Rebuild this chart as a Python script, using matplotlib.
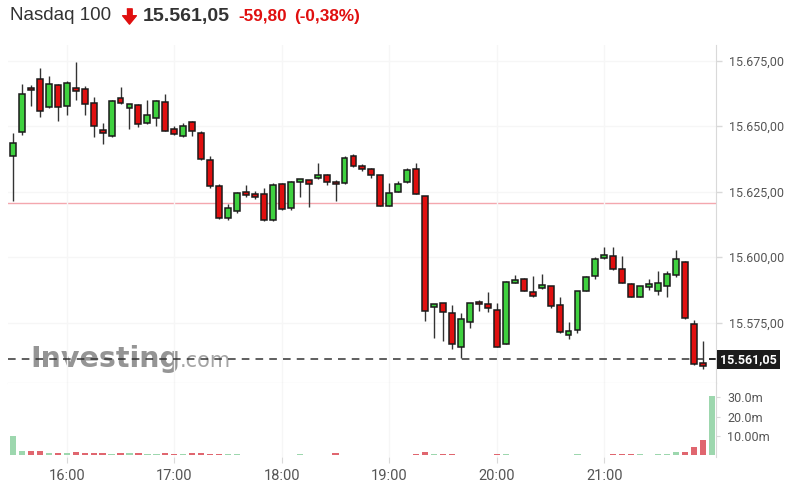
import numpy as np
import pandas as pd
import matplotlib
matplotlib.use("Agg")
import matplotlib.pyplot as plt

# Data (5 minute candles, 15:30 - 22:00)
START_TIME = "15:30"
opens = [15638.7, 15647.8, 15664.7, 15668.0, 15657.2, 15665.7, 15657.8, 15664.7, 15664.2, 15659.0,
         15648.5, 15646.4, 15660.8, 15657.0, 15658.1, 15651.3, 15653.1, 15659.4, 15648.9, 15646.4,
         15651.5, 15647.5, 15637.1, 15627.0, 15615.0, 15617.5, 15625.0, 15624.1, 15624.1, 15614.2,
         15627.9, 15618.8, 15628.8, 15629.5, 15630.2, 15631.2, 15628.9, 15628.3, 15638.5, 15635.0,
         15633.7, 15631.2, 15619.7, 15625.0, 15628.8, 15633.7, 15623.2, 15581.0, 15582.6, 15578.7,
         15565.6, 15575.3, 15583.1, 15582.1, 15579.7, 15566.9, 15590.2, 15591.8, 15586.6, 15588.1,
         15588.9, 15581.8, 15570.5, 15572.3, 15587.2, 15592.9, 15599.7, 15600.3, 15595.6, 15589.9,
         15584.9, 15588.6, 15587.2, 15589.1, 15593.3, 15598.3, 15574.5, 15559.7, 15561.05]
highs = [15647.3, 15666.1, 15665.7, 15672.2, 15669.3, 15666.0, 15667.1, 15674.6, 15665.5, 15661.0,
         15651.2, 15660.0, 15665.0, 15658.6, 15658.3, 15660.1, 15660.0, 15662.3, 15650.2, 15651.2,
         15652.1, 15648.3, 15638.7, 15627.9, 15620.3, 15625.0, 15627.7, 15625.4, 15626.6, 15628.2,
         15628.2, 15629.2, 15630.0, 15629.6, 15636.0, 15631.7, 15629.3, 15638.5, 15639.4, 15635.5,
         15634.0, 15631.5, 15628.3, 15629.2, 15634.0, 15635.8, 15623.3, 15582.2, 15582.7, 15581.9,
         15578.9, 15582.7, 15583.7, 15586.8, 15582.4, 15590.8, 15593.3, 15592.0, 15592.9, 15593.6,
         15589.0, 15584.9, 15575.1, 15587.2, 15592.9, 15600.2, 15604.0, 15604.0, 15600.6, 15590.0,
         15589.1, 15591.7, 15594.6, 15594.8, 15602.9, 15598.5, 15576.0, 15568.1, 15561.05]
lows = [15621.6, 15646.6, 15657.8, 15653.6, 15657.0, 15652.1, 15654.1, 15660.0, 15654.4, 15645.7,
        15643.2, 15646.0, 15658.5, 15648.9, 15649.8, 15651.0, 15649.9, 15648.0, 15646.6, 15646.0,
        15646.1, 15637.2, 15626.6, 15614.6, 15614.2, 15616.9, 15623.1, 15622.2, 15614.0, 15614.0,
        15618.2, 15618.0, 15622.8, 15619.3, 15630.0, 15627.7, 15621.3, 15628.0, 15634.5, 15633.0,
        15630.2, 15619.5, 15619.5, 15624.8, 15628.5, 15624.0, 15575.5, 15569.2, 15568.1, 15565.0,
        15561.5, 15573.0, 15579.3, 15579.2, 15565.7, 15566.8, 15590.0, 15587.0, 15585.0, 15588.0,
        15580.8, 15571.0, 15568.8, 15570.9, 15587.0, 15591.7, 15599.5, 15595.3, 15590.0, 15584.7,
        15584.7, 15587.5, 15585.7, 15585.0, 15592.6, 15576.5, 15559.0, 15557.2, 15561.05]
closes = [15643.7, 15662.3, 15663.7, 15655.9, 15666.1, 15657.3, 15666.6, 15663.5, 15658.5, 15650.2,
          15647.3, 15659.5, 15658.9, 15658.5, 15650.8, 15654.1, 15659.8, 15648.3, 15647.0, 15650.2,
          15648.0, 15637.5, 15627.3, 15615.0, 15618.9, 15624.5, 15623.9, 15622.8, 15614.2, 15627.7,
          15618.4, 15628.9, 15630.0, 15627.8, 15631.4, 15628.8, 15627.8, 15638.0, 15634.9, 15633.5,
          15631.2, 15619.7, 15624.5, 15627.9, 15633.3, 15624.1, 15579.6, 15582.1, 15579.1, 15566.9,
          15576.4, 15582.6, 15582.0, 15580.5, 15565.8, 15590.6, 15591.3, 15587.2, 15585.2, 15589.4,
          15581.5, 15571.3, 15571.7, 15587.0, 15592.3, 15599.5, 15600.8, 15595.5, 15590.2, 15584.9,
          15588.9, 15589.8, 15590.2, 15593.6, 15599.3, 15576.8, 15559.2, 15558.6, 15561.05]
# volume in millions
volumes = [10.1, 2.3, 2.3, 2.5, 1.5, 1.5, 1.4, 1.7, 1.2, 1.1,
           1.1, 1.0, 1.1, 1.1, 1.1, 1.0, 1.0, 1.2, 1.0, 1.0,
           1.1, 1.1, 1.0, 1.0, 0.9, 0.8, 0.4, 0.4, 0.3, 0.4,
           0.4, 0.5, 0.6, 0.3, 0.3, 0.3, 1.2, 0.3, 0.3, 0.4,
           0.3, 0.4, 0.4, 0.4, 0.4, 0.8, 1.8, 0.8, 1.0, 1.0,
           0.4, 0.3, 0.3, 0.3, 1.0, 1.0, 0.3, 0.4, 0.4, 0.3,
           0.3, 0.4, 0.3, 0.9, 0.4, 0.3, 0.3, 1.0, 0.7, 1.0,
           0.8, 0.3, 0.7, 0.8, 1.8, 1.8, 4.2, 8.0, 31.0]

PREV_CLOSE = 15620.85
LAST_PRICE = 15561.05
CHANGE = -59.80
CHANGE_PCT = -0.38
price_ticks = [15575, 15600, 15625, 15650, 15675]
vol_ticks = [10, 20, 30]
vol_tick_labels = ["10.00m", "20.0m", "30.0m"]

# Colors
GREEN = "#3fd13f"
RED = "#e00f0f"
VOL_GREEN = "#9dd7ae"
VOL_RED = "#e0666f"
GRID = "#f6f6f6"
AXIS = "#d9d9d9"
TEXT = "#555555"


def euro(v):
    # 15675 -> "15.675,00"
    s = f"{v:,.2f}"
    return s.replace(",", "X").replace(".", ",").replace("X", ".")


times = pd.date_range("2023-01-01 " + START_TIME, periods=len(closes), freq="5min")
x = np.arange(len(closes))
up = np.array(closes) >= np.array(opens)
hour_idx = [i for i, t in enumerate(times) if t.minute == 0 and i < len(closes) - 1]
hour_lbl = [times[i].strftime("%H:%M") for i in hour_idx]

fig = plt.figure(figsize=(7.85, 4.93), dpi=100)
ax = fig.add_axes([8 / 785, 110 / 493, 708 / 785, 338 / 493])
axv = fig.add_axes([8 / 785, 36 / 493, 708 / 785, 74 / 493], sharex=ax)

# Price panel
for i in range(len(closes)):
    ax.vlines(x[i], lows[i], highs[i], color="#333333", linewidth=1, zorder=3)
bottoms = np.minimum(opens, closes)
heights = np.abs(np.array(closes) - np.array(opens))
ax.bar(x, heights, bottom=bottoms, width=0.66,
       color=[GREEN if u else RED for u in up],
       edgecolor="#1a1a1a", linewidth=1.1, zorder=4)

ax.axhline(PREV_CLOSE, color="#f4a7ae", linewidth=1, zorder=1)
ax.axhline(LAST_PRICE, color="#333333", linewidth=1.1, linestyle=(0, (5, 4)), zorder=2)

ax.set_xlim(-0.56, 78.46)
ax.set_ylim(15552.0, 15681.0)
ax.yaxis.tick_right()
ax.set_yticks(price_ticks)
ax.set_yticklabels([euro(v) for v in price_ticks])
ax.tick_params(axis="y", length=4, width=1, color=AXIS, pad=5,
               labelsize=9, labelcolor=TEXT)
ax.tick_params(axis="x", bottom=False, labelbottom=False)
ax.set_xticks(hour_idx)
ax.grid(True, color=GRID, linewidth=1, zorder=0)
for side in ["top", "left"]:
    ax.spines[side].set_visible(False)
ax.spines["right"].set_color(AXIS)
ax.spines["bottom"].set_color("#cccccc")

# last price label
ax.text(1.006, LAST_PRICE, euro(LAST_PRICE), transform=ax.get_yaxis_transform(),
        ha="left", va="center", fontsize=9, color="white", fontweight="bold",
        fontfamily="Roboto", zorder=6,
        bbox=dict(boxstyle="square,pad=0.25", facecolor="#1c1c1c", edgecolor="none"))

# Watermark
ax.text(22 / 708, 0.047, "Investing", transform=ax.transAxes, fontsize=20.5,
        fontweight="bold", color="#8a8a8a", alpha=0.9, ha="left", va="baseline",
        fontfamily="DejaVu Sans", zorder=1)
ax.text(172 / 708, 0.047, ".com", transform=ax.transAxes, fontsize=15,
        color="#9a9a9a", alpha=0.9, ha="left", va="baseline",
        fontfamily="DejaVu Sans", zorder=1)

# Volume panel
axv.bar(x, volumes, width=0.7, color=[VOL_GREEN if u else VOL_RED for u in up], zorder=3)
axv.set_ylim(-0.78, 37.5)
axv.yaxis.tick_right()
axv.set_yticks(vol_ticks)
axv.set_yticklabels(vol_tick_labels)
axv.tick_params(axis="y", length=3, color=AXIS, pad=5, labelsize=9, labelcolor=TEXT)
axv.set_xticks(hour_idx)
axv.set_xticklabels(hour_lbl)
axv.tick_params(axis="x", length=4, color=AXIS, pad=5, labelsize=10.5, labelcolor=TEXT)
axv.grid(True, axis="x", color=GRID, linewidth=1, zorder=0)
for side in ["top", "left", "bottom"]:
    axv.spines[side].set_visible(False)
axv.spines["right"].set_color(AXIS)

for a in (ax, axv):
    for lbl in a.get_yticklabels() + a.get_xticklabels():
        lbl.set_fontfamily("Roboto")

# Title line
fig.text(10 / 785, 1 - 16 / 493, "Nasdaq 100", fontsize=13.5, color="#333333",
         fontfamily="Liberation Sans", va="center", ha="left")
ov = fig.add_axes([0, 0, 1, 1], facecolor="none")
ov.set_axis_off()
ov.set_xlim(0, 785)
ov.set_ylim(493, 0)
arrow = [(-0.35, 1), (0.35, 1), (0.35, 0.1), (0.9, 0.1), (0, -1), (-0.9, 0.1), (-0.35, 0.1)]
ov.plot([129], [16], marker=arrow, markersize=11, color="#e00f0f", linestyle="none")
fig.text(143 / 785, 1 - 16 / 493, euro(LAST_PRICE), fontsize=14, color="#333333",
         fontweight="bold", fontfamily="Liberation Sans", va="center", ha="left")
fig.text(238 / 785, 1 - 16 / 493, euro(CHANGE), fontsize=12.3, color="#e00f0f",
         fontweight="bold", fontfamily="Liberation Sans", va="center", ha="left")
fig.text(294 / 785, 1 - 16 / 493, "(" + euro(CHANGE_PCT) + "%)", fontsize=12.3,
         color="#e00f0f", fontweight="bold", fontfamily="Liberation Sans",
         va="center", ha="left")

fig.savefig("out.png", dpi=100)
